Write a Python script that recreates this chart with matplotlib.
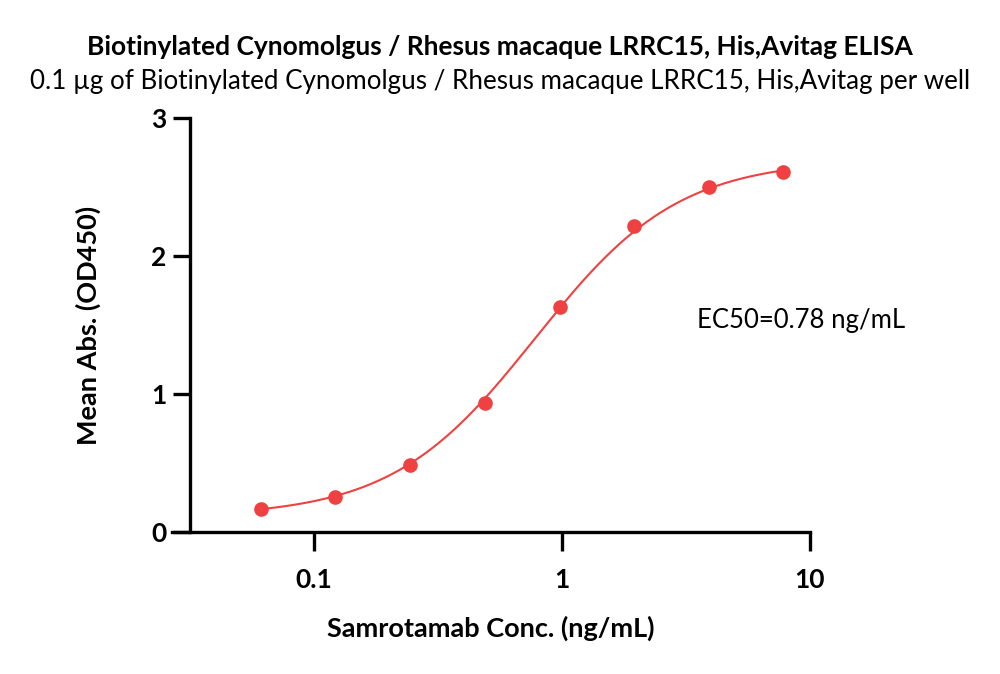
import numpy as np
import matplotlib
matplotlib.use('Agg')
import matplotlib.pyplot as plt

plt.rcParams['font.family'] = ['Lato', 'DejaVu Sans']

# Samrotamab concentration (ng/mL), two-fold dilution series
conc = [0.061, 0.122, 0.244, 0.488, 0.977, 1.953, 3.906, 7.8125]
# Mean absorbance at 450 nm
od450 = [0.167, 0.254, 0.486, 0.935, 1.63, 2.217, 2.50, 2.61]

# 4PL fit parameters
bottom = 0.11
top = 2.70
ec50 = 0.78
hill = 1.5

title = "Biotinylated Cynomolgus / Rhesus macaque LRRC15, His,Avitag ELISA"
subtitle = "0.1 \u00b5g of Biotinylated Cynomolgus / Rhesus macaque LRRC15, His,Avitag per well"
red = '#EF4141'

fig = plt.figure(figsize=(10, 6.74), dpi=100)
ax = fig.add_axes([0.172, 0.2107, 0.638, 0.6142])

xfit = np.logspace(np.log10(conc[0]), np.log10(conc[-1]), 300)
yfit = bottom + (top - bottom) / (1 + (ec50 / xfit) ** hill)
ax.plot(xfit, yfit, color=red, lw=1.5)
ax.plot(conc, od450, 'o', color=red, ms=9.5, mec=red)

ax.set_xscale('log')
ax.set_xlim(10 ** -1.573, 10)
ax.set_ylim(0, 3)
ax.spines['left'].set_position(('data', 10 ** -1.5))
ax.spines['top'].set_visible(False)
ax.spines['right'].set_visible(False)
for s in ['left', 'bottom']:
    ax.spines[s].set_linewidth(2.4)
ax.set_xticks([0.1, 1, 10])
ax.set_xticklabels(['0.1', '1', '10'])
ax.xaxis.set_minor_locator(matplotlib.ticker.NullLocator())
ax.set_yticks([0, 1, 2, 3])
ax.tick_params(axis='x', length=14, width=2.4, pad=12, labelsize=19)
ax.tick_params(axis='y', length=12, width=2.4, pad=5, labelsize=19)
for lbl in ax.get_xticklabels() + ax.get_yticklabels():
    lbl.set_fontweight('bold')

ax.set_xlabel('Samrotamab Conc. (ng/mL)', fontsize=19.5, fontweight='bold', labelpad=17)
ax.set_ylabel('Mean Abs. (OD450)', fontsize=19.5, fontweight='bold', labelpad=36)

ax.text(0.823, 1.536, 'EC50=0.78 ng/mL', fontsize=18.5,
        transform=ax.get_yaxis_transform(), ha='left', va='center')

fig.text(0.5, 1 - 47 / 674, title, ha='center', va='center', fontsize=19, fontweight='bold')
fig.text(0.5, 1 - 82 / 674, subtitle, ha='center', va='center', fontsize=18.7)

fig.savefig('out.png', dpi=100)
